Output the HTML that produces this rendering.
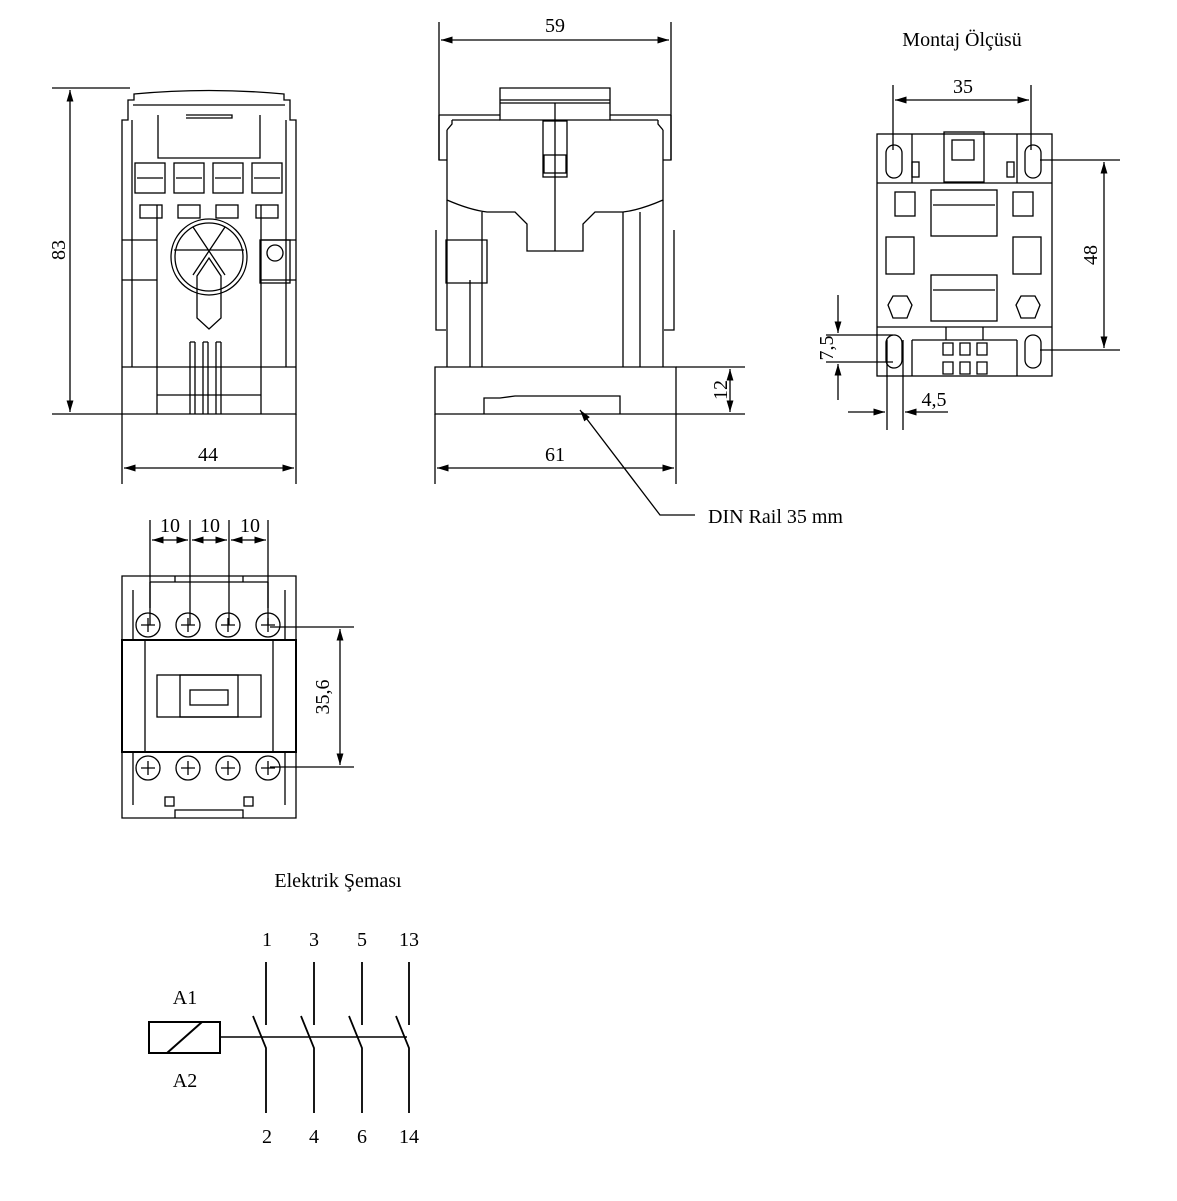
<!DOCTYPE html>
<html><head><meta charset="utf-8"><style>
html,body{margin:0;padding:0;background:#fff}
svg{display:block}
text{font-family:"Liberation Serif",serif;font-size:20px;fill:#000}
</style></head><body>
<svg width="1177" height="1201" viewBox="0 0 1177 1201" xmlns="http://www.w3.org/2000/svg">
<defs>
<marker id="a" viewBox="0 0 10 10" refX="10" refY="5" markerWidth="9" markerHeight="9" orient="auto-start-reverse"><path d="M0,2 L10,5 L0,8z" fill="#000"/></marker>
</defs>
<g fill="none" stroke="#000" stroke-width="1.3">
<!-- VIEW 1 -->
<line x1="52" y1="88" x2="130" y2="88"/><line x1="52" y1="414" x2="122" y2="414"/>
<line x1="70" y1="90" x2="70" y2="412" marker-start="url(#a)" marker-end="url(#a)"/>
<line x1="122" y1="414" x2="122" y2="484"/><line x1="296" y1="414" x2="296" y2="484"/>
<line x1="124" y1="468" x2="294" y2="468" marker-start="url(#a)" marker-end="url(#a)"/>
<path d="M122,414 V120 H128 V100 H134 V94 Q209,87 284,94 V100 H290 V120 H296 V414 Z"/>
<path d="M133,105 H285 M158,115 V158 H260 V115 M186,115 H232 V118 H186"/>
<path d="M132,120 V367 M286,120 V367 M157,205 V414 M261,205 V414"/>
<path d="M122,367 H296 M157,395 H261"/>
<path d="M122,240 H157 M122,280 H157 M261,240 H296 M261,280 H296"/>
<g>
<rect x="135" y="163" width="30" height="30"/><rect x="174" y="163" width="30" height="30"/><rect x="213" y="163" width="30" height="30"/><rect x="252" y="163" width="30" height="30"/>
<path d="M137,178 H163 M176,178 H202 M215,178 H241 M254,178 H280"/>
<rect x="140" y="205" width="22" height="13"/><rect x="178" y="205" width="22" height="13"/><rect x="216" y="205" width="22" height="13"/><rect x="256" y="205" width="22" height="13"/>
</g>
<circle cx="209" cy="257" r="38"/><circle cx="209" cy="257" r="34"/>
<path d="M174,250 H244 M193,227 L225,275 M225,227 L193,275"/>
<path d="M197,276 L209,258 L221,276 V318 L209,329 L197,318 Z"/>
<rect x="260" y="240" width="30" height="43"/><circle cx="275" cy="253" r="8"/>
<path d="M190,342 V414 M195,342 V414 M203,342 V414 M208,342 V414 M216,342 V414 M221,342 V414 M190,342 H195 M203,342 H208 M216,342 H221"/>
<!-- VIEW 2 -->
<line x1="439" y1="22" x2="439" y2="160"/><line x1="671" y1="22" x2="671" y2="160"/>
<line x1="441" y1="40" x2="669" y2="40" marker-start="url(#a)" marker-end="url(#a)"/>
<path d="M500,88 H610 V120 H500 Z M500,103 H610 M500,100 H610"/>
<path d="M439,115 H500 M610,115 H671 M439,115 V160 H447 M671,115 V160 H663"/>
<path d="M452,120 H500 M610,120 H658 M447,130 L452,124 V120 M663,130 L658,124 V120"/>
<path d="M447,130 V200 Q470,210 487,212 H515 L527,224 V251 H583 V224 L595,212 H623 Q640,210 663,200 V130"/>
<line x1="555" y1="103" x2="555" y2="251"/>
<rect x="543" y="121" width="24" height="56"/><rect x="544" y="155" width="22" height="18"/>
<path d="M447,200 V367 M482,212 V367 M470,280 V367 M623,212 V367 M640,212 V367 M663,200 V367"/>
<path d="M446,240 H487 V283 H446 Z M436,230 V330 H446 M674,230 V330 H664"/>
<path d="M435,367 H676 V414 H435 Z"/>
<path d="M484,414 V398 H500 L515,396 H620 V414"/>
<line x1="676" y1="367" x2="745" y2="367"/><line x1="676" y1="414" x2="745" y2="414"/>
<line x1="730" y1="369" x2="730" y2="412" marker-start="url(#a)" marker-end="url(#a)"/>
<line x1="435" y1="414" x2="435" y2="484"/><line x1="676" y1="414" x2="676" y2="484"/>
<line x1="437" y1="468" x2="674" y2="468" marker-start="url(#a)" marker-end="url(#a)"/>
<polyline points="695,515 660,515 580,410" marker-end="url(#a)"/>
<!-- VIEW 3 -->
<line x1="893" y1="85" x2="893" y2="150"/><line x1="1031" y1="85" x2="1031" y2="150"/>
<line x1="895" y1="100" x2="1029" y2="100" marker-start="url(#a)" marker-end="url(#a)"/>
<rect x="877" y="134" width="175" height="242"/>
<path d="M877,183 H1052 M877,327 H1052 M912,134 V183 M1017,134 V183 M912,327 H946 V340 M1017,327 H983 V340 M912,340 H1017 M912,340 V376 M1017,340 V376"/>
<rect x="944" y="132" width="40" height="50"/><rect x="952" y="140" width="22" height="20"/>
<rect x="886" y="145" width="16" height="33" rx="8"/><rect x="1025" y="145" width="16" height="33" rx="8"/>
<rect x="886" y="335" width="16" height="33" rx="8"/><rect x="1025" y="335" width="16" height="33" rx="8"/>
<rect x="912" y="162" width="7" height="15"/><rect x="1007" y="162" width="7" height="15"/>
<rect x="895" y="192" width="20" height="24"/><rect x="1013" y="192" width="20" height="24"/>
<rect x="931" y="190" width="66" height="46"/><rect x="931" y="275" width="66" height="46"/>
<path d="M933,205 H995 M933,290 H995" />
<rect x="886" y="237" width="28" height="37"/><rect x="1013" y="237" width="28" height="37"/>
<polygon points="893,296 907,296 912,305 907,318 893,318 888,305"/><polygon points="1021,296 1035,296 1040,305 1035,318 1021,318 1016,305"/>
<path d="M943,343 h10 v12 h-10z M960,343 h10 v12 h-10z M977,343 h10 v12 h-10z M943,362 h10 v12 h-10z M960,362 h10 v12 h-10z M977,362 h10 v12 h-10z"/>
<line x1="1040" y1="160" x2="1120" y2="160"/><line x1="1040" y1="350" x2="1120" y2="350"/>
<line x1="1104" y1="162" x2="1104" y2="348" marker-start="url(#a)" marker-end="url(#a)"/>
<line x1="826" y1="335" x2="893" y2="335"/><line x1="826" y1="362" x2="893" y2="362"/>
<line x1="838" y1="295" x2="838" y2="333" marker-end="url(#a)"/><line x1="838" y1="400" x2="838" y2="364" marker-end="url(#a)"/>
<line x1="887" y1="340" x2="887" y2="430"/><line x1="903" y1="340" x2="903" y2="430"/>
<line x1="848" y1="412" x2="885" y2="412" marker-end="url(#a)"/><line x1="948" y1="412" x2="905" y2="412" marker-end="url(#a)"/>
<!-- VIEW 4 -->
<path d="M122,576 H296 V818 H122 Z"/>
<path d="M175,576 V582 H243 V576 M150,582 V608 M268,582 V608 M150,582 H268 M133,590 V640 M285,590 V640 M133,752 V805 M285,752 V805"/>
<rect x="122" y="640" width="174" height="112" stroke-width="2"/>
<path d="M145,640 V752 M273,640 V752"/>
<rect x="157" y="675" width="104" height="42"/><rect x="180" y="675" width="58" height="42"/><rect x="190" y="690" width="38" height="15"/>
<g>
<circle cx="148" cy="625" r="12"/><circle cx="188" cy="625" r="12"/><circle cx="228" cy="625" r="12"/><circle cx="268" cy="625" r="12"/>
<circle cx="148" cy="768" r="12"/><circle cx="188" cy="768" r="12"/><circle cx="228" cy="768" r="12"/><circle cx="268" cy="768" r="12"/>
<path d="M141,625 h14 M148,618 v14 M181,625 h14 M188,618 v14 M221,625 h14 M228,618 v14 M261,625 h14 M268,618 v14 M141,768 h14 M148,761 v14 M181,768 h14 M188,761 v14 M221,768 h14 M228,761 v14 M261,768 h14 M268,761 v14"/>
</g>
<rect x="165" y="797" width="9" height="9"/><rect x="244" y="797" width="9" height="9"/>
<path d="M175,818 V810 H243 V818"/>
<path d="M150,520 V625 M190,520 V625 M229,520 V625 M268,520 V625"/>
<line x1="152" y1="540" x2="188" y2="540" marker-start="url(#a)" marker-end="url(#a)"/>
<line x1="192" y1="540" x2="227" y2="540" marker-start="url(#a)" marker-end="url(#a)"/>
<line x1="231" y1="540" x2="266" y2="540" marker-start="url(#a)" marker-end="url(#a)"/>
<line x1="270" y1="627" x2="354" y2="627"/><line x1="270" y1="767" x2="354" y2="767"/>
<line x1="340" y1="629" x2="340" y2="765" marker-start="url(#a)" marker-end="url(#a)"/>
<!-- SCHEMATIC -->
<rect x="149" y="1022" width="71" height="31" stroke-width="2"/>
<line x1="167" y1="1053" x2="202" y2="1022" stroke-width="2"/>
<line x1="220" y1="1037" x2="407" y2="1037" stroke-width="1.5"/>
<g stroke-width="1.8">
<path d="M266,962 V1025 M253,1016 L266,1048 V1113"/>
<path d="M314,962 V1025 M301,1016 L314,1048 V1113"/>
<path d="M362,962 V1025 M349,1016 L362,1048 V1113"/>
<path d="M409,962 V1025 M396,1016 L409,1048 V1113"/>
</g>
</g>
<text x="58" y="250" text-anchor="middle" transform="rotate(-90 58 250)" dy="7">83</text>
<text x="208" y="461" text-anchor="middle">44</text>
<text x="555" y="32" text-anchor="middle">59</text>
<text x="555" y="461" text-anchor="middle">61</text>
<text x="720" y="390" text-anchor="middle" transform="rotate(-90 720 390)" dy="7">12</text>
<text x="708" y="523">DIN Rail 35 mm</text>
<text x="962" y="46" text-anchor="middle">Montaj Ölçüsü</text>
<text x="963" y="93" text-anchor="middle">35</text>
<text x="1090" y="255" text-anchor="middle" transform="rotate(-90 1090 255)" dy="7">48</text>
<text x="826" y="348" text-anchor="middle" transform="rotate(-90 826 348)" dy="7">7,5</text>
<text x="934" y="406" text-anchor="middle">4,5</text>
<text x="170" y="532" text-anchor="middle">10</text>
<text x="210" y="532" text-anchor="middle">10</text>
<text x="250" y="532" text-anchor="middle">10</text>
<text x="322" y="697" text-anchor="middle" transform="rotate(-90 322 697)" dy="7">35,6</text>
<text x="338" y="887" text-anchor="middle">Elektrik Şeması</text>
<text x="267" y="946" text-anchor="middle">1</text><text x="314" y="946" text-anchor="middle">3</text><text x="362" y="946" text-anchor="middle">5</text><text x="409" y="946" text-anchor="middle">13</text>
<text x="267" y="1143" text-anchor="middle">2</text><text x="314" y="1143" text-anchor="middle">4</text><text x="362" y="1143" text-anchor="middle">6</text><text x="409" y="1143" text-anchor="middle">14</text>
<text x="185" y="1004" text-anchor="middle">A1</text>
<text x="185" y="1087" text-anchor="middle">A2</text>
</svg>
</body></html>
